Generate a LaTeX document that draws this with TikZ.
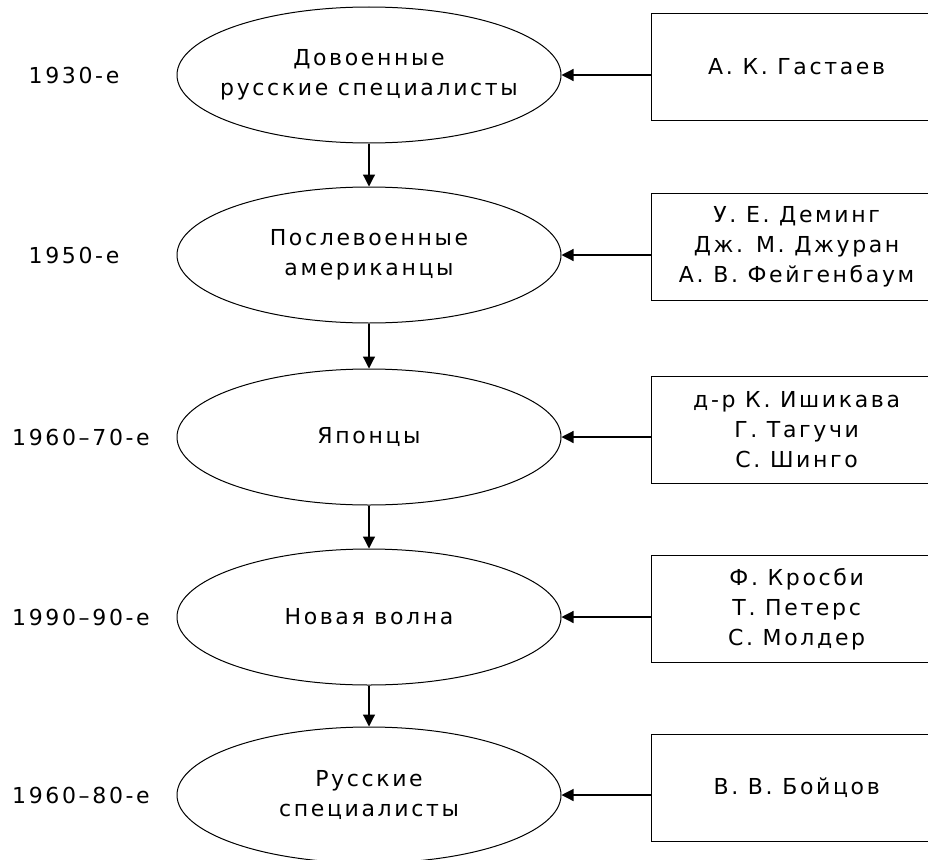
\documentclass[tikz,border=0pt]{standalone}
\usepackage{fontspec}
\setmainfont{DejaVu Sans}[LetterSpace=12]
\usetikzlibrary{shapes.geometric,arrows.meta}
\begin{document}
\begin{tikzpicture}[x=1pt,y=-1pt,
  every node/.style={font=\fontsize{22}{30}\selectfont},
  ell/.style={ellipse,draw,line width=1pt,minimum width=384pt,minimum height=136pt,inner xsep=-30pt,inner ysep=0pt,align=center},
  namebox/.style={rectangle,draw,line width=1.3pt,minimum width=290pt,minimum height=107pt,inner sep=0pt,align=center,anchor=west},
  arr/.style={-{Triangle[length=12pt,width=12pt]},line width=1.2pt}]
\useasboundingbox (0,0) rectangle (928,859);
\clip (0,0) rectangle (928,859);
\node[ell] (e1) at (369,75) {Довоенные\\русские специалисты};
\node[ell] (e2) at (369,255) {Послевоенные\\американцы};
\node[ell] (e3) at (369,437) {Японцы};
\node[ell] (e4) at (369,617) {Новая волна};
\node[ell] (e5) at (369,795) {Русские\\специалисты};
\node (y1) at (74,75) {1930-е};
\node (y2) at (74,255) {1950-е};
\node (y3) at (81,437) {1960–70-е};
\node (y4) at (81,617) {1990–90-е};
\node (y5) at (81,795) {1960–80-е};
\node[namebox] (b1) at (651,67) {А. К. Гастаев};
\node[namebox] (b2) at (651,247) {У. Е. Деминг\\Дж. М. Джуран\\А. В. Фейгенбаум};
\node[namebox] (b3) at (651,430) {д-р К. Ишикава\\Г. Тагучи\\С. Шинго};
\node[namebox] (b4) at (651,609) {Ф. Кросби\\Т. Петерс\\С. Молдер};
\node[namebox] (b5) at (651,788) {В. В. Бойцов};
\foreach \i in {1,...,5}{\draw[arr] (b\i.west |- e\i.east) -- (e\i.east);}
\draw[arr] (e1.south) -- (e2.north);
\draw[arr] (e2.south) -- (e3.north);
\draw[arr] (e3.south) -- (e4.north);
\draw[arr] (e4.south) -- (e5.north);
\end{tikzpicture}
\end{document}
